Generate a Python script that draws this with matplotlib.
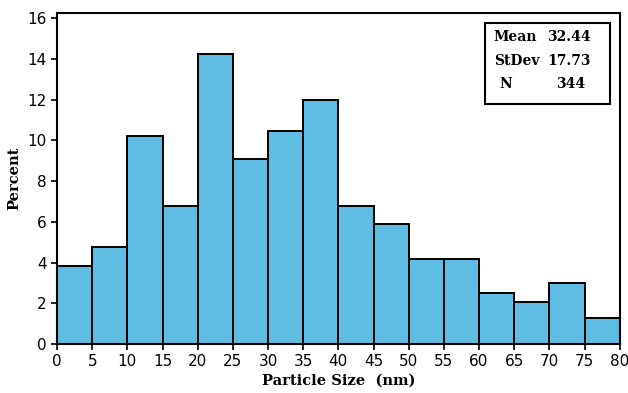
import numpy as np
import matplotlib.pyplot as plt
from matplotlib.patches import Rectangle

# histogram bins (nm) and percent per bin
bin_edges = [0, 5, 10, 15, 20, 25, 30, 35, 40, 45, 50, 55, 60, 65, 70, 75, 80]
percent = [3.82, 4.75, 10.2, 6.8, 14.26, 9.07, 10.44, 11.96,
           6.8, 5.88, 4.17, 4.17, 2.5, 2.06, 2.99, 1.27]
stat_names = ['Mean', 'StDev', 'N']
stat_values = ['32.44', '17.73', '344']

fig = plt.figure(figsize=(6.28, 3.93), dpi=100)
ax = fig.add_axes([0.0908, 0.1247, 0.896, 0.842])

left = np.array(bin_edges[:-1])
widths = np.diff(bin_edges)
ax.bar(left, percent, width=widths, align='edge', color='#5FBDE3',
       edgecolor='black', linewidth=1.4)

ax.set_xlim(0, 80)
ax.set_ylim(0, 16.25)
ax.set_xticks(bin_edges)
ax.set_yticks(range(0, 17, 2))
ax.tick_params(labelsize=11, length=4, width=1.2, direction='out')
for s in ax.spines.values():
    s.set_linewidth(1.5)

serif = {'family': 'DejaVu Serif', 'weight': 'bold', 'size': 10.5}
ax.set_xlabel('Particle Size  (nm)', fontdict=serif, labelpad=3)
ax.set_ylabel('Percent', fontdict=serif)

# stats box
ax.add_patch(Rectangle((0.761, 0.725), 0.221, 0.245, transform=ax.transAxes,
                       fill=False, edgecolor='black', linewidth=1.5))
ys = [0.927, 0.855, 0.785]
box_font = {'family': 'DejaVu Serif', 'weight': 'bold', 'size': 10}
for name, val, y in zip(stat_names, stat_values, ys):
    xname = 0.787 if name == 'N' else 0.776
    xval = 0.886 if name == 'N' else 0.871
    ax.text(xname, y, name, transform=ax.transAxes, va='center', ha='left',
            fontdict=box_font)
    ax.text(xval, y, val, transform=ax.transAxes, va='center', ha='left',
            fontdict=box_font)

fig.savefig('out.png', dpi=100)
